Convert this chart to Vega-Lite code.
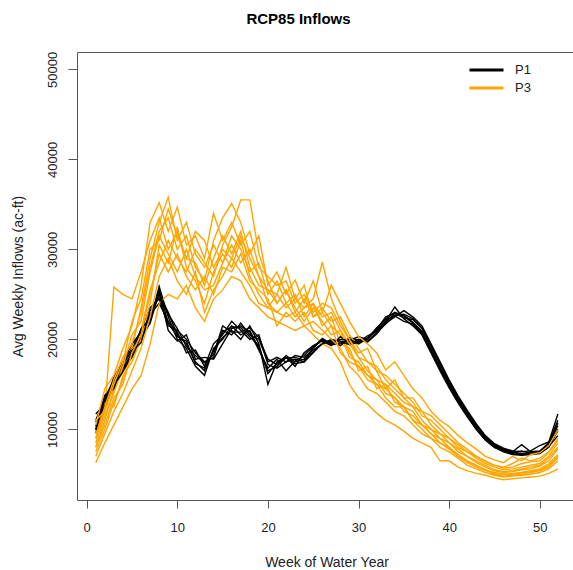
{
"$schema":"https://vega.github.io/schema/vega-lite/v6.json",
"autosize":{"type":"none"},
"padding":{"left":77,"top":52,"right":-3,"bottom":70},
"width":499,"height":448,
"background":"white",
"title":{"text":"RCP85 Inflows","fontSize":15,"fontWeight":"bold","color":"#000","anchor":"middle","frame":"group","dx":-28,"dy":-4,"baseline":"alphabetic","offset":8},
"config":{"font":"Liberation Sans","view":{"stroke":"#555","strokeWidth":1},"axis":{"grid":false,"domain":false,"tickColor":"#555","labelColor":"#222","titleColor":"#222","labelFontSize":13,"titleFontSize":14,"titleFontWeight":"normal"}},
"data":{"values":[
{"g":"P1","r":1,"w":1,"v":9600},{"g":"P1","r":1,"w":2,"v":12500},{"g":"P1","r":1,"w":3,"v":14800},{"g":"P1","r":1,"w":4,"v":16500},{"g":"P1","r":1,"w":5,"v":18200},{"g":"P1","r":1,"w":6,"v":20000},{"g":"P1","r":1,"w":7,"v":22000},{"g":"P1","r":1,"w":8,"v":25900},{"g":"P1","r":1,"w":9,"v":22500},{"g":"P1","r":1,"w":10,"v":20000},{"g":"P1","r":1,"w":11,"v":19000},{"g":"P1","r":1,"w":12,"v":17000},{"g":"P1","r":1,"w":13,"v":16000},{"g":"P1","r":1,"w":14,"v":19000},{"g":"P1","r":1,"w":15,"v":20000},{"g":"P1","r":1,"w":16,"v":21500},{"g":"P1","r":1,"w":17,"v":20500},{"g":"P1","r":1,"w":18,"v":21000},{"g":"P1","r":1,"w":19,"v":19000},{"g":"P1","r":1,"w":20,"v":16500},{"g":"P1","r":1,"w":21,"v":17000},{"g":"P1","r":1,"w":22,"v":18000},{"g":"P1","r":1,"w":23,"v":17300},{"g":"P1","r":1,"w":24,"v":17500},{"g":"P1","r":1,"w":25,"v":19000},{"g":"P1","r":1,"w":26,"v":20000},{"g":"P1","r":1,"w":27,"v":19400},{"g":"P1","r":1,"w":28,"v":19500},{"g":"P1","r":1,"w":29,"v":19800},{"g":"P1","r":1,"w":30,"v":19600},{"g":"P1","r":1,"w":31,"v":20200},{"g":"P1","r":1,"w":32,"v":21200},{"g":"P1","r":1,"w":33,"v":22300},{"g":"P1","r":1,"w":34,"v":23000},{"g":"P1","r":1,"w":35,"v":22600},{"g":"P1","r":1,"w":36,"v":21800},{"g":"P1","r":1,"w":37,"v":20800},{"g":"P1","r":1,"w":38,"v":18800},{"g":"P1","r":1,"w":39,"v":16800},{"g":"P1","r":1,"w":40,"v":14800},{"g":"P1","r":1,"w":41,"v":13000},{"g":"P1","r":1,"w":42,"v":11500},{"g":"P1","r":1,"w":43,"v":10000},{"g":"P1","r":1,"w":44,"v":8800},{"g":"P1","r":1,"w":45,"v":8000},{"g":"P1","r":1,"w":46,"v":7500},{"g":"P1","r":1,"w":47,"v":7200},{"g":"P1","r":1,"w":48,"v":7100},{"g":"P1","r":1,"w":49,"v":7200},{"g":"P1","r":1,"w":50,"v":7300},{"g":"P1","r":1,"w":51,"v":8000},{"g":"P1","r":1,"w":52,"v":10000},
{"g":"P3","r":1,"w":1,"v":9000},{"g":"P3","r":1,"w":2,"v":12000},{"g":"P3","r":1,"w":3,"v":25800},{"g":"P3","r":1,"w":4,"v":25000},{"g":"P3","r":1,"w":5,"v":24500},{"g":"P3","r":1,"w":6,"v":27500},{"g":"P3","r":1,"w":7,"v":31000},{"g":"P3","r":1,"w":8,"v":33500},{"g":"P3","r":1,"w":9,"v":30000},{"g":"P3","r":1,"w":10,"v":32000},{"g":"P3","r":1,"w":11,"v":29000},{"g":"P3","r":1,"w":12,"v":28500},{"g":"P3","r":1,"w":13,"v":26000},{"g":"P3","r":1,"w":14,"v":29000},{"g":"P3","r":1,"w":15,"v":31500},{"g":"P3","r":1,"w":16,"v":29500},{"g":"P3","r":1,"w":17,"v":32000},{"g":"P3","r":1,"w":18,"v":28000},{"g":"P3","r":1,"w":19,"v":26000},{"g":"P3","r":1,"w":20,"v":25500},{"g":"P3","r":1,"w":21,"v":24000},{"g":"P3","r":1,"w":22,"v":25500},{"g":"P3","r":1,"w":23,"v":23000},{"g":"P3","r":1,"w":24,"v":24500},{"g":"P3","r":1,"w":25,"v":22500},{"g":"P3","r":1,"w":26,"v":23000},{"g":"P3","r":1,"w":27,"v":21500},{"g":"P3","r":1,"w":28,"v":20500},{"g":"P3","r":1,"w":29,"v":18000},{"g":"P3","r":1,"w":30,"v":17500},{"g":"P3","r":1,"w":31,"v":16000},{"g":"P3","r":1,"w":32,"v":15500},{"g":"P3","r":1,"w":33,"v":14000},{"g":"P3","r":1,"w":34,"v":13500},{"g":"P3","r":1,"w":35,"v":12500},{"g":"P3","r":1,"w":36,"v":12000},{"g":"P3","r":1,"w":37,"v":10500},{"g":"P3","r":1,"w":38,"v":10000},{"g":"P3","r":1,"w":39,"v":9000},{"g":"P3","r":1,"w":40,"v":8500},{"g":"P3","r":1,"w":41,"v":7500},{"g":"P3","r":1,"w":42,"v":7000},{"g":"P3","r":1,"w":43,"v":6300},{"g":"P3","r":1,"w":44,"v":5800},{"g":"P3","r":1,"w":45,"v":5400},{"g":"P3","r":1,"w":46,"v":5200},{"g":"P3","r":1,"w":47,"v":5300},{"g":"P3","r":1,"w":48,"v":5500},{"g":"P3","r":1,"w":49,"v":5600},{"g":"P3","r":1,"w":50,"v":5900},{"g":"P3","r":1,"w":51,"v":6500},{"g":"P3","r":1,"w":52,"v":7800},
{"g":"P1","r":2,"w":1,"v":11000},{"g":"P1","r":2,"w":2,"v":13500},{"g":"P1","r":2,"w":3,"v":15500},{"g":"P1","r":2,"w":4,"v":17500},{"g":"P1","r":2,"w":5,"v":19000},{"g":"P1","r":2,"w":6,"v":21000},{"g":"P1","r":2,"w":7,"v":23500},{"g":"P1","r":2,"w":8,"v":24500},{"g":"P1","r":2,"w":9,"v":21500},{"g":"P1","r":2,"w":10,"v":21000},{"g":"P1","r":2,"w":11,"v":20000},{"g":"P1","r":2,"w":12,"v":18500},{"g":"P1","r":2,"w":13,"v":17500},{"g":"P1","r":2,"w":14,"v":18000},{"g":"P1","r":2,"w":15,"v":21000},{"g":"P1","r":2,"w":16,"v":20500},{"g":"P1","r":2,"w":17,"v":21800},{"g":"P1","r":2,"w":18,"v":20500},{"g":"P1","r":2,"w":19,"v":20000},{"g":"P1","r":2,"w":20,"v":17500},{"g":"P1","r":2,"w":21,"v":18000},{"g":"P1","r":2,"w":22,"v":17500},{"g":"P1","r":2,"w":23,"v":18200},{"g":"P1","r":2,"w":24,"v":18000},{"g":"P1","r":2,"w":25,"v":18800},{"g":"P1","r":2,"w":26,"v":19500},{"g":"P1","r":2,"w":27,"v":20000},{"g":"P1","r":2,"w":28,"v":19700},{"g":"P1","r":2,"w":29,"v":19500},{"g":"P1","r":2,"w":30,"v":20000},{"g":"P1","r":2,"w":31,"v":19800},{"g":"P1","r":2,"w":32,"v":20800},{"g":"P1","r":2,"w":33,"v":21700},{"g":"P1","r":2,"w":34,"v":22700},{"g":"P1","r":2,"w":35,"v":22800},{"g":"P1","r":2,"w":36,"v":22300},{"g":"P1","r":2,"w":37,"v":21300},{"g":"P1","r":2,"w":38,"v":19300},{"g":"P1","r":2,"w":39,"v":17300},{"g":"P1","r":2,"w":40,"v":15300},{"g":"P1","r":2,"w":41,"v":13500},{"g":"P1","r":2,"w":42,"v":12000},{"g":"P1","r":2,"w":43,"v":10500},{"g":"P1","r":2,"w":44,"v":9200},{"g":"P1","r":2,"w":45,"v":8300},{"g":"P1","r":2,"w":46,"v":7800},{"g":"P1","r":2,"w":47,"v":7500},{"g":"P1","r":2,"w":48,"v":8300},{"g":"P1","r":2,"w":49,"v":7500},{"g":"P1","r":2,"w":50,"v":7600},{"g":"P1","r":2,"w":51,"v":8500},{"g":"P1","r":2,"w":52,"v":11000},
{"g":"P3","r":2,"w":1,"v":7500},{"g":"P3","r":2,"w":2,"v":10000},{"g":"P3","r":2,"w":3,"v":13000},{"g":"P3","r":2,"w":4,"v":15500},{"g":"P3","r":2,"w":5,"v":19000},{"g":"P3","r":2,"w":6,"v":23500},{"g":"P3","r":2,"w":7,"v":29000},{"g":"P3","r":2,"w":8,"v":33000},{"g":"P3","r":2,"w":9,"v":35800},{"g":"P3","r":2,"w":10,"v":31000},{"g":"P3","r":2,"w":11,"v":33000},{"g":"P3","r":2,"w":12,"v":29500},{"g":"P3","r":2,"w":13,"v":28000},{"g":"P3","r":2,"w":14,"v":30500},{"g":"P3","r":2,"w":15,"v":28500},{"g":"P3","r":2,"w":16,"v":31500},{"g":"P3","r":2,"w":17,"v":30000},{"g":"P3","r":2,"w":18,"v":27500},{"g":"P3","r":2,"w":19,"v":28500},{"g":"P3","r":2,"w":20,"v":25000},{"g":"P3","r":2,"w":21,"v":26500},{"g":"P3","r":2,"w":22,"v":24000},{"g":"P3","r":2,"w":23,"v":25000},{"g":"P3","r":2,"w":24,"v":22500},{"g":"P3","r":2,"w":25,"v":24000},{"g":"P3","r":2,"w":26,"v":21500},{"g":"P3","r":2,"w":27,"v":22500},{"g":"P3","r":2,"w":28,"v":19500},{"g":"P3","r":2,"w":29,"v":19000},{"g":"P3","r":2,"w":30,"v":16500},{"g":"P3","r":2,"w":31,"v":17000},{"g":"P3","r":2,"w":32,"v":14500},{"g":"P3","r":2,"w":33,"v":15000},{"g":"P3","r":2,"w":34,"v":13000},{"g":"P3","r":2,"w":35,"v":12500},{"g":"P3","r":2,"w":36,"v":11000},{"g":"P3","r":2,"w":37,"v":10500},{"g":"P3","r":2,"w":38,"v":9500},{"g":"P3","r":2,"w":39,"v":8500},{"g":"P3","r":2,"w":40,"v":8000},{"g":"P3","r":2,"w":41,"v":7200},{"g":"P3","r":2,"w":42,"v":6500},{"g":"P3","r":2,"w":43,"v":6000},{"g":"P3","r":2,"w":44,"v":5500},{"g":"P3","r":2,"w":45,"v":5200},{"g":"P3","r":2,"w":46,"v":5000},{"g":"P3","r":2,"w":47,"v":5000},{"g":"P3","r":2,"w":48,"v":5200},{"g":"P3","r":2,"w":49,"v":5300},{"g":"P3","r":2,"w":50,"v":5500},{"g":"P3","r":2,"w":51,"v":6000},{"g":"P3","r":2,"w":52,"v":7000},
{"g":"P1","r":3,"w":1,"v":10000},{"g":"P1","r":3,"w":2,"v":13000},{"g":"P1","r":3,"w":3,"v":15000},{"g":"P1","r":3,"w":4,"v":16800},{"g":"P1","r":3,"w":5,"v":18500},{"g":"P1","r":3,"w":6,"v":20500},{"g":"P1","r":3,"w":7,"v":22500},{"g":"P1","r":3,"w":8,"v":25000},{"g":"P1","r":3,"w":9,"v":23000},{"g":"P1","r":3,"w":10,"v":20500},{"g":"P1","r":3,"w":11,"v":19500},{"g":"P1","r":3,"w":12,"v":17500},{"g":"P1","r":3,"w":13,"v":16500},{"g":"P1","r":3,"w":14,"v":18800},{"g":"P1","r":3,"w":15,"v":20200},{"g":"P1","r":3,"w":16,"v":21000},{"g":"P1","r":3,"w":17,"v":20000},{"g":"P1","r":3,"w":18,"v":21500},{"g":"P1","r":3,"w":19,"v":19500},{"g":"P1","r":3,"w":20,"v":15000},{"g":"P1","r":3,"w":21,"v":17500},{"g":"P1","r":3,"w":22,"v":18000},{"g":"P1","r":3,"w":23,"v":17000},{"g":"P1","r":3,"w":24,"v":18500},{"g":"P1","r":3,"w":25,"v":19300},{"g":"P1","r":3,"w":26,"v":19800},{"g":"P1","r":3,"w":27,"v":19300},{"g":"P1","r":3,"w":28,"v":20300},{"g":"P1","r":3,"w":29,"v":19600},{"g":"P1","r":3,"w":30,"v":19800},{"g":"P1","r":3,"w":31,"v":20100},{"g":"P1","r":3,"w":32,"v":21000},{"g":"P1","r":3,"w":33,"v":22000},{"g":"P1","r":3,"w":34,"v":23600},{"g":"P1","r":3,"w":35,"v":22300},{"g":"P1","r":3,"w":36,"v":21500},{"g":"P1","r":3,"w":37,"v":20500},{"g":"P1","r":3,"w":38,"v":18500},{"g":"P1","r":3,"w":39,"v":16500},{"g":"P1","r":3,"w":40,"v":14600},{"g":"P1","r":3,"w":41,"v":12900},{"g":"P1","r":3,"w":42,"v":11400},{"g":"P1","r":3,"w":43,"v":10000},{"g":"P1","r":3,"w":44,"v":8800},{"g":"P1","r":3,"w":45,"v":8000},{"g":"P1","r":3,"w":46,"v":7600},{"g":"P1","r":3,"w":47,"v":7300},{"g":"P1","r":3,"w":48,"v":7200},{"g":"P1","r":3,"w":49,"v":7300},{"g":"P1","r":3,"w":50,"v":7400},{"g":"P1","r":3,"w":51,"v":8200},{"g":"P1","r":3,"w":52,"v":9800},
{"g":"P3","r":3,"w":1,"v":8000},{"g":"P3","r":3,"w":2,"v":11000},{"g":"P3","r":3,"w":3,"v":14500},{"g":"P3","r":3,"w":4,"v":16500},{"g":"P3","r":3,"w":5,"v":18000},{"g":"P3","r":3,"w":6,"v":21000},{"g":"P3","r":3,"w":7,"v":25500},{"g":"P3","r":3,"w":8,"v":28500},{"g":"P3","r":3,"w":9,"v":31000},{"g":"P3","r":3,"w":10,"v":29000},{"g":"P3","r":3,"w":11,"v":27500},{"g":"P3","r":3,"w":12,"v":30000},{"g":"P3","r":3,"w":13,"v":28500},{"g":"P3","r":3,"w":14,"v":27000},{"g":"P3","r":3,"w":15,"v":30500},{"g":"P3","r":3,"w":16,"v":32500},{"g":"P3","r":3,"w":17,"v":35500},{"g":"P3","r":3,"w":18,"v":35500},{"g":"P3","r":3,"w":19,"v":29500},{"g":"P3","r":3,"w":20,"v":26500},{"g":"P3","r":3,"w":21,"v":24000},{"g":"P3","r":3,"w":22,"v":25500},{"g":"P3","r":3,"w":23,"v":23500},{"g":"P3","r":3,"w":24,"v":22000},{"g":"P3","r":3,"w":25,"v":23500},{"g":"P3","r":3,"w":26,"v":22000},{"g":"P3","r":3,"w":27,"v":20500},{"g":"P3","r":3,"w":28,"v":21000},{"g":"P3","r":3,"w":29,"v":18500},{"g":"P3","r":3,"w":30,"v":17000},{"g":"P3","r":3,"w":31,"v":16000},{"g":"P3","r":3,"w":32,"v":15000},{"g":"P3","r":3,"w":33,"v":14500},{"g":"P3","r":3,"w":34,"v":13500},{"g":"P3","r":3,"w":35,"v":12000},{"g":"P3","r":3,"w":36,"v":11500},{"g":"P3","r":3,"w":37,"v":10500},{"g":"P3","r":3,"w":38,"v":9500},{"g":"P3","r":3,"w":39,"v":9000},{"g":"P3","r":3,"w":40,"v":8000},{"g":"P3","r":3,"w":41,"v":7000},{"g":"P3","r":3,"w":42,"v":6500},{"g":"P3","r":3,"w":43,"v":6000},{"g":"P3","r":3,"w":44,"v":5500},{"g":"P3","r":3,"w":45,"v":5000},{"g":"P3","r":3,"w":46,"v":4800},{"g":"P3","r":3,"w":47,"v":4900},{"g":"P3","r":3,"w":48,"v":5000},{"g":"P3","r":3,"w":49,"v":5200},{"g":"P3","r":3,"w":50,"v":5400},{"g":"P3","r":3,"w":51,"v":5800},{"g":"P3","r":3,"w":52,"v":6800},
{"g":"P1","r":4,"w":1,"v":11700},{"g":"P1","r":4,"w":2,"v":12800},{"g":"P1","r":4,"w":3,"v":15800},{"g":"P1","r":4,"w":4,"v":17500},{"g":"P1","r":4,"w":5,"v":19500},{"g":"P1","r":4,"w":6,"v":20800},{"g":"P1","r":4,"w":7,"v":22800},{"g":"P1","r":4,"w":8,"v":24000},{"g":"P1","r":4,"w":9,"v":22000},{"g":"P1","r":4,"w":10,"v":20800},{"g":"P1","r":4,"w":11,"v":18500},{"g":"P1","r":4,"w":12,"v":18800},{"g":"P1","r":4,"w":13,"v":17000},{"g":"P1","r":4,"w":14,"v":19500},{"g":"P1","r":4,"w":15,"v":20500},{"g":"P1","r":4,"w":16,"v":22000},{"g":"P1","r":4,"w":17,"v":21000},{"g":"P1","r":4,"w":18,"v":20000},{"g":"P1","r":4,"w":19,"v":20500},{"g":"P1","r":4,"w":20,"v":17200},{"g":"P1","r":4,"w":21,"v":16800},{"g":"P1","r":4,"w":22,"v":17500},{"g":"P1","r":4,"w":23,"v":17800},{"g":"P1","r":4,"w":24,"v":17500},{"g":"P1","r":4,"w":25,"v":18500},{"g":"P1","r":4,"w":26,"v":19600},{"g":"P1","r":4,"w":27,"v":19800},{"g":"P1","r":4,"w":28,"v":19300},{"g":"P1","r":4,"w":29,"v":20200},{"g":"P1","r":4,"w":30,"v":19900},{"g":"P1","r":4,"w":31,"v":19700},{"g":"P1","r":4,"w":32,"v":20600},{"g":"P1","r":4,"w":33,"v":21800},{"g":"P1","r":4,"w":34,"v":22500},{"g":"P1","r":4,"w":35,"v":23200},{"g":"P1","r":4,"w":36,"v":22500},{"g":"P1","r":4,"w":37,"v":21500},{"g":"P1","r":4,"w":38,"v":19500},{"g":"P1","r":4,"w":39,"v":17500},{"g":"P1","r":4,"w":40,"v":15500},{"g":"P1","r":4,"w":41,"v":13700},{"g":"P1","r":4,"w":42,"v":12100},{"g":"P1","r":4,"w":43,"v":10600},{"g":"P1","r":4,"w":44,"v":9300},{"g":"P1","r":4,"w":45,"v":8400},{"g":"P1","r":4,"w":46,"v":7900},{"g":"P1","r":4,"w":47,"v":7600},{"g":"P1","r":4,"w":48,"v":7500},{"g":"P1","r":4,"w":49,"v":7600},{"g":"P1","r":4,"w":50,"v":8200},{"g":"P1","r":4,"w":51,"v":8600},{"g":"P1","r":4,"w":52,"v":11700},
{"g":"P3","r":4,"w":1,"v":6300},{"g":"P3","r":4,"w":2,"v":8500},{"g":"P3","r":4,"w":3,"v":10500},{"g":"P3","r":4,"w":4,"v":12500},{"g":"P3","r":4,"w":5,"v":14500},{"g":"P3","r":4,"w":6,"v":16000},{"g":"P3","r":4,"w":7,"v":19500},{"g":"P3","r":4,"w":8,"v":24000},{"g":"P3","r":4,"w":9,"v":25000},{"g":"P3","r":4,"w":10,"v":24500},{"g":"P3","r":4,"w":11,"v":26000},{"g":"P3","r":4,"w":12,"v":23500},{"g":"P3","r":4,"w":13,"v":22000},{"g":"P3","r":4,"w":14,"v":24500},{"g":"P3","r":4,"w":15,"v":25500},{"g":"P3","r":4,"w":16,"v":27000},{"g":"P3","r":4,"w":17,"v":26500},{"g":"P3","r":4,"w":18,"v":24500},{"g":"P3","r":4,"w":19,"v":23500},{"g":"P3","r":4,"w":20,"v":22500},{"g":"P3","r":4,"w":21,"v":22000},{"g":"P3","r":4,"w":22,"v":21500},{"g":"P3","r":4,"w":23,"v":21000},{"g":"P3","r":4,"w":24,"v":21500},{"g":"P3","r":4,"w":25,"v":20500},{"g":"P3","r":4,"w":26,"v":19500},{"g":"P3","r":4,"w":27,"v":19000},{"g":"P3","r":4,"w":28,"v":17500},{"g":"P3","r":4,"w":29,"v":15000},{"g":"P3","r":4,"w":30,"v":13500},{"g":"P3","r":4,"w":31,"v":12800},{"g":"P3","r":4,"w":32,"v":11800},{"g":"P3","r":4,"w":33,"v":11000},{"g":"P3","r":4,"w":34,"v":10500},{"g":"P3","r":4,"w":35,"v":9800},{"g":"P3","r":4,"w":36,"v":9000},{"g":"P3","r":4,"w":37,"v":8500},{"g":"P3","r":4,"w":38,"v":8000},{"g":"P3","r":4,"w":39,"v":6500},{"g":"P3","r":4,"w":40,"v":6500},{"g":"P3","r":4,"w":41,"v":5800},{"g":"P3","r":4,"w":42,"v":5400},{"g":"P3","r":4,"w":43,"v":5100},{"g":"P3","r":4,"w":44,"v":4900},{"g":"P3","r":4,"w":45,"v":4600},{"g":"P3","r":4,"w":46,"v":4400},{"g":"P3","r":4,"w":47,"v":4500},{"g":"P3","r":4,"w":48,"v":4600},{"g":"P3","r":4,"w":49,"v":4700},{"g":"P3","r":4,"w":50,"v":4800},{"g":"P3","r":4,"w":51,"v":5100},{"g":"P3","r":4,"w":52,"v":5600},
{"g":"P1","r":5,"w":1,"v":10300},{"g":"P1","r":5,"w":2,"v":13800},{"g":"P1","r":5,"w":3,"v":14500},{"g":"P1","r":5,"w":4,"v":16800},{"g":"P1","r":5,"w":5,"v":18000},{"g":"P1","r":5,"w":6,"v":20200},{"g":"P1","r":5,"w":7,"v":21800},{"g":"P1","r":5,"w":8,"v":25200},{"g":"P1","r":5,"w":9,"v":21000},{"g":"P1","r":5,"w":10,"v":19800},{"g":"P1","r":5,"w":11,"v":20500},{"g":"P1","r":5,"w":12,"v":17800},{"g":"P1","r":5,"w":13,"v":18000},{"g":"P1","r":5,"w":14,"v":17800},{"g":"P1","r":5,"w":15,"v":19500},{"g":"P1","r":5,"w":16,"v":21200},{"g":"P1","r":5,"w":17,"v":21500},{"g":"P1","r":5,"w":18,"v":20800},{"g":"P1","r":5,"w":19,"v":18800},{"g":"P1","r":5,"w":20,"v":16800},{"g":"P1","r":5,"w":21,"v":17800},{"g":"P1","r":5,"w":22,"v":16500},{"g":"P1","r":5,"w":23,"v":17600},{"g":"P1","r":5,"w":24,"v":18200},{"g":"P1","r":5,"w":25,"v":19200},{"g":"P1","r":5,"w":26,"v":19900},{"g":"P1","r":5,"w":27,"v":19600},{"g":"P1","r":5,"w":28,"v":20000},{"g":"P1","r":5,"w":29,"v":19900},{"g":"P1","r":5,"w":30,"v":20300},{"g":"P1","r":5,"w":31,"v":20000},{"g":"P1","r":5,"w":32,"v":21300},{"g":"P1","r":5,"w":33,"v":22200},{"g":"P1","r":5,"w":34,"v":22600},{"g":"P1","r":5,"w":35,"v":22000},{"g":"P1","r":5,"w":36,"v":21700},{"g":"P1","r":5,"w":37,"v":20600},{"g":"P1","r":5,"w":38,"v":18700},{"g":"P1","r":5,"w":39,"v":16700},{"g":"P1","r":5,"w":40,"v":14900},{"g":"P1","r":5,"w":41,"v":13200},{"g":"P1","r":5,"w":42,"v":11700},{"g":"P1","r":5,"w":43,"v":10200},{"g":"P1","r":5,"w":44,"v":8900},{"g":"P1","r":5,"w":45,"v":8100},{"g":"P1","r":5,"w":46,"v":7700},{"g":"P1","r":5,"w":47,"v":7400},{"g":"P1","r":5,"w":48,"v":7600},{"g":"P1","r":5,"w":49,"v":7300},{"g":"P1","r":5,"w":50,"v":7500},{"g":"P1","r":5,"w":51,"v":8300},{"g":"P1","r":5,"w":52,"v":10400},
{"g":"P3","r":5,"w":1,"v":9500},{"g":"P3","r":5,"w":2,"v":13000},{"g":"P3","r":5,"w":3,"v":12500},{"g":"P3","r":5,"w":4,"v":16000},{"g":"P3","r":5,"w":5,"v":17500},{"g":"P3","r":5,"w":6,"v":20000},{"g":"P3","r":5,"w":7,"v":24000},{"g":"P3","r":5,"w":8,"v":30500},{"g":"P3","r":5,"w":9,"v":28500},{"g":"P3","r":5,"w":10,"v":32500},{"g":"P3","r":5,"w":11,"v":28000},{"g":"P3","r":5,"w":12,"v":26500},{"g":"P3","r":5,"w":13,"v":24000},{"g":"P3","r":5,"w":14,"v":27500},{"g":"P3","r":5,"w":15,"v":29500},{"g":"P3","r":5,"w":16,"v":28000},{"g":"P3","r":5,"w":17,"v":31000},{"g":"P3","r":5,"w":18,"v":27000},{"g":"P3","r":5,"w":19,"v":25000},{"g":"P3","r":5,"w":20,"v":23500},{"g":"P3","r":5,"w":21,"v":25000},{"g":"P3","r":5,"w":22,"v":28000},{"g":"P3","r":5,"w":23,"v":24500},{"g":"P3","r":5,"w":24,"v":26000},{"g":"P3","r":5,"w":25,"v":22500},{"g":"P3","r":5,"w":26,"v":23500},{"g":"P3","r":5,"w":27,"v":22000},{"g":"P3","r":5,"w":28,"v":22500},{"g":"P3","r":5,"w":29,"v":20500},{"g":"P3","r":5,"w":30,"v":19000},{"g":"P3","r":5,"w":31,"v":17500},{"g":"P3","r":5,"w":32,"v":17000},{"g":"P3","r":5,"w":33,"v":15500},{"g":"P3","r":5,"w":34,"v":14500},{"g":"P3","r":5,"w":35,"v":13500},{"g":"P3","r":5,"w":36,"v":12500},{"g":"P3","r":5,"w":37,"v":12000},{"g":"P3","r":5,"w":38,"v":10500},{"g":"P3","r":5,"w":39,"v":9500},{"g":"P3","r":5,"w":40,"v":9000},{"g":"P3","r":5,"w":41,"v":8000},{"g":"P3","r":5,"w":42,"v":7500},{"g":"P3","r":5,"w":43,"v":6800},{"g":"P3","r":5,"w":44,"v":6200},{"g":"P3","r":5,"w":45,"v":5800},{"g":"P3","r":5,"w":46,"v":5500},{"g":"P3","r":5,"w":47,"v":5600},{"g":"P3","r":5,"w":48,"v":5800},{"g":"P3","r":5,"w":49,"v":6000},{"g":"P3","r":5,"w":50,"v":6200},{"g":"P3","r":5,"w":51,"v":7000},{"g":"P3","r":5,"w":52,"v":8500},
{"g":"P1","r":6,"w":1,"v":10800},{"g":"P1","r":6,"w":2,"v":12600},{"g":"P1","r":6,"w":3,"v":15300},{"g":"P1","r":6,"w":4,"v":17200},{"g":"P1","r":6,"w":5,"v":18800},{"g":"P1","r":6,"w":6,"v":19600},{"g":"P1","r":6,"w":7,"v":23200},{"g":"P1","r":6,"w":8,"v":24600},{"g":"P1","r":6,"w":9,"v":22800},{"g":"P1","r":6,"w":10,"v":21200},{"g":"P1","r":6,"w":11,"v":19200},{"g":"P1","r":6,"w":12,"v":18200},{"g":"P1","r":6,"w":13,"v":17400},{"g":"P1","r":6,"w":14,"v":18300},{"g":"P1","r":6,"w":15,"v":21500},{"g":"P1","r":6,"w":16,"v":20800},{"g":"P1","r":6,"w":17,"v":20800},{"g":"P1","r":6,"w":18,"v":21300},{"g":"P1","r":6,"w":19,"v":20200},{"g":"P1","r":6,"w":20,"v":17800},{"g":"P1","r":6,"w":21,"v":17200},{"g":"P1","r":6,"w":22,"v":18200},{"g":"P1","r":6,"w":23,"v":17500},{"g":"P1","r":6,"w":24,"v":17800},{"g":"P1","r":6,"w":25,"v":18600},{"g":"P1","r":6,"w":26,"v":19500},{"g":"P1","r":6,"w":27,"v":19900},{"g":"P1","r":6,"w":28,"v":19800},{"g":"P1","r":6,"w":29,"v":19400},{"g":"P1","r":6,"w":30,"v":19700},{"g":"P1","r":6,"w":31,"v":20400},{"g":"P1","r":6,"w":32,"v":20900},{"g":"P1","r":6,"w":33,"v":21900},{"g":"P1","r":6,"w":34,"v":22900},{"g":"P1","r":6,"w":35,"v":22400},{"g":"P1","r":6,"w":36,"v":22200},{"g":"P1","r":6,"w":37,"v":21200},{"g":"P1","r":6,"w":38,"v":19200},{"g":"P1","r":6,"w":39,"v":17200},{"g":"P1","r":6,"w":40,"v":15200},{"g":"P1","r":6,"w":41,"v":13400},{"g":"P1","r":6,"w":42,"v":11900},{"g":"P1","r":6,"w":43,"v":10400},{"g":"P1","r":6,"w":44,"v":9100},{"g":"P1","r":6,"w":45,"v":8200},{"g":"P1","r":6,"w":46,"v":7800},{"g":"P1","r":6,"w":47,"v":7500},{"g":"P1","r":6,"w":48,"v":7300},{"g":"P1","r":6,"w":49,"v":7400},{"g":"P1","r":6,"w":50,"v":7500},{"g":"P1","r":6,"w":51,"v":8400},{"g":"P1","r":6,"w":52,"v":10700},
{"g":"P3","r":6,"w":1,"v":8500},{"g":"P3","r":6,"w":2,"v":11500},{"g":"P3","r":6,"w":3,"v":14000},{"g":"P3","r":6,"w":4,"v":17000},{"g":"P3","r":6,"w":5,"v":20500},{"g":"P3","r":6,"w":6,"v":22000},{"g":"P3","r":6,"w":7,"v":27500},{"g":"P3","r":6,"w":8,"v":31500},{"g":"P3","r":6,"w":9,"v":29500},{"g":"P3","r":6,"w":10,"v":27500},{"g":"P3","r":6,"w":11,"v":30000},{"g":"P3","r":6,"w":12,"v":27000},{"g":"P3","r":6,"w":13,"v":25500},{"g":"P3","r":6,"w":14,"v":26000},{"g":"P3","r":6,"w":15,"v":28500},{"g":"P3","r":6,"w":16,"v":30500},{"g":"P3","r":6,"w":17,"v":28500},{"g":"P3","r":6,"w":18,"v":30000},{"g":"P3","r":6,"w":19,"v":27000},{"g":"P3","r":6,"w":20,"v":24000},{"g":"P3","r":6,"w":21,"v":23000},{"g":"P3","r":6,"w":22,"v":24000},{"g":"P3","r":6,"w":23,"v":22500},{"g":"P3","r":6,"w":24,"v":23500},{"g":"P3","r":6,"w":25,"v":24500},{"g":"P3","r":6,"w":26,"v":28600},{"g":"P3","r":6,"w":27,"v":24500},{"g":"P3","r":6,"w":28,"v":22000},{"g":"P3","r":6,"w":29,"v":20000},{"g":"P3","r":6,"w":30,"v":18500},{"g":"P3","r":6,"w":31,"v":19000},{"g":"P3","r":6,"w":32,"v":16500},{"g":"P3","r":6,"w":33,"v":16000},{"g":"P3","r":6,"w":34,"v":15000},{"g":"P3","r":6,"w":35,"v":14000},{"g":"P3","r":6,"w":36,"v":13000},{"g":"P3","r":6,"w":37,"v":11500},{"g":"P3","r":6,"w":38,"v":11000},{"g":"P3","r":6,"w":39,"v":10000},{"g":"P3","r":6,"w":40,"v":9000},{"g":"P3","r":6,"w":41,"v":8300},{"g":"P3","r":6,"w":42,"v":7500},{"g":"P3","r":6,"w":43,"v":7000},{"g":"P3","r":6,"w":44,"v":6500},{"g":"P3","r":6,"w":45,"v":6000},{"g":"P3","r":6,"w":46,"v":5800},{"g":"P3","r":6,"w":47,"v":6200},{"g":"P3","r":6,"w":48,"v":6800},{"g":"P3","r":6,"w":49,"v":6500},{"g":"P3","r":6,"w":50,"v":6800},{"g":"P3","r":6,"w":51,"v":7500},{"g":"P3","r":6,"w":52,"v":9000},
{"g":"P1","r":7,"w":1,"v":9900},{"g":"P1","r":7,"w":2,"v":13300},{"g":"P1","r":7,"w":3,"v":14900},{"g":"P1","r":7,"w":4,"v":16400},{"g":"P1","r":7,"w":5,"v":18300},{"g":"P1","r":7,"w":6,"v":21200},{"g":"P1","r":7,"w":7,"v":22300},{"g":"P1","r":7,"w":8,"v":25500},{"g":"P1","r":7,"w":9,"v":21800},{"g":"P1","r":7,"w":10,"v":20300},{"g":"P1","r":7,"w":11,"v":19800},{"g":"P1","r":7,"w":12,"v":17300},{"g":"P1","r":7,"w":13,"v":16800},{"g":"P1","r":7,"w":14,"v":18700},{"g":"P1","r":7,"w":15,"v":20800},{"g":"P1","r":7,"w":16,"v":21400},{"g":"P1","r":7,"w":17,"v":21300},{"g":"P1","r":7,"w":18,"v":20300},{"g":"P1","r":7,"w":19,"v":19300},{"g":"P1","r":7,"w":20,"v":16200},{"g":"P1","r":7,"w":21,"v":17400},{"g":"P1","r":7,"w":22,"v":17900},{"g":"P1","r":7,"w":23,"v":18000},{"g":"P1","r":7,"w":24,"v":17700},{"g":"P1","r":7,"w":25,"v":19100},{"g":"P1","r":7,"w":26,"v":20100},{"g":"P1","r":7,"w":27,"v":19500},{"g":"P1","r":7,"w":28,"v":19600},{"g":"P1","r":7,"w":29,"v":20000},{"g":"P1","r":7,"w":30,"v":19500},{"g":"P1","r":7,"w":31,"v":20100},{"g":"P1","r":7,"w":32,"v":21100},{"g":"P1","r":7,"w":33,"v":22500},{"g":"P1","r":7,"w":34,"v":22900},{"g":"P1","r":7,"w":35,"v":22700},{"g":"P1","r":7,"w":36,"v":21900},{"g":"P1","r":7,"w":37,"v":20900},{"g":"P1","r":7,"w":38,"v":18900},{"g":"P1","r":7,"w":39,"v":16900},{"g":"P1","r":7,"w":40,"v":15000},{"g":"P1","r":7,"w":41,"v":13200},{"g":"P1","r":7,"w":42,"v":11600},{"g":"P1","r":7,"w":43,"v":10100},{"g":"P1","r":7,"w":44,"v":8900},{"g":"P1","r":7,"w":45,"v":8100},{"g":"P1","r":7,"w":46,"v":7600},{"g":"P1","r":7,"w":47,"v":7300},{"g":"P1","r":7,"w":48,"v":7200},{"g":"P1","r":7,"w":49,"v":7300},{"g":"P1","r":7,"w":50,"v":7400},{"g":"P1","r":7,"w":51,"v":8100},{"g":"P1","r":7,"w":52,"v":9300},
{"g":"P3","r":7,"w":1,"v":10500},{"g":"P3","r":7,"w":2,"v":14500},{"g":"P3","r":7,"w":3,"v":16000},{"g":"P3","r":7,"w":4,"v":19000},{"g":"P3","r":7,"w":5,"v":21500},{"g":"P3","r":7,"w":6,"v":26000},{"g":"P3","r":7,"w":7,"v":33000},{"g":"P3","r":7,"w":8,"v":35200},{"g":"P3","r":7,"w":9,"v":32000},{"g":"P3","r":7,"w":10,"v":34700},{"g":"P3","r":7,"w":11,"v":30500},{"g":"P3","r":7,"w":12,"v":31500},{"g":"P3","r":7,"w":13,"v":29000},{"g":"P3","r":7,"w":14,"v":34000},{"g":"P3","r":7,"w":15,"v":31000},{"g":"P3","r":7,"w":16,"v":33000},{"g":"P3","r":7,"w":17,"v":30500},{"g":"P3","r":7,"w":18,"v":32000},{"g":"P3","r":7,"w":19,"v":28000},{"g":"P3","r":7,"w":20,"v":27000},{"g":"P3","r":7,"w":21,"v":26000},{"g":"P3","r":7,"w":22,"v":26500},{"g":"P3","r":7,"w":23,"v":24000},{"g":"P3","r":7,"w":24,"v":25000},{"g":"P3","r":7,"w":25,"v":23000},{"g":"P3","r":7,"w":26,"v":24000},{"g":"P3","r":7,"w":27,"v":23500},{"g":"P3","r":7,"w":28,"v":21500},{"g":"P3","r":7,"w":29,"v":20000},{"g":"P3","r":7,"w":30,"v":18000},{"g":"P3","r":7,"w":31,"v":17500},{"g":"P3","r":7,"w":32,"v":16500},{"g":"P3","r":7,"w":33,"v":14500},{"g":"P3","r":7,"w":34,"v":15500},{"g":"P3","r":7,"w":35,"v":13500},{"g":"P3","r":7,"w":36,"v":13500},{"g":"P3","r":7,"w":37,"v":12000},{"g":"P3","r":7,"w":38,"v":11500},{"g":"P3","r":7,"w":39,"v":10500},{"g":"P3","r":7,"w":40,"v":9500},{"g":"P3","r":7,"w":41,"v":8500},{"g":"P3","r":7,"w":42,"v":7800},{"g":"P3","r":7,"w":43,"v":7000},{"g":"P3","r":7,"w":44,"v":6400},{"g":"P3","r":7,"w":45,"v":6000},{"g":"P3","r":7,"w":46,"v":5700},{"g":"P3","r":7,"w":47,"v":5800},{"g":"P3","r":7,"w":48,"v":6200},{"g":"P3","r":7,"w":49,"v":6400},{"g":"P3","r":7,"w":50,"v":6500},{"g":"P3","r":7,"w":51,"v":7400},{"g":"P3","r":7,"w":52,"v":8800},
{"g":"P3","r":8,"w":1,"v":7000},{"g":"P3","r":8,"w":2,"v":9500},{"g":"P3","r":8,"w":3,"v":12000},{"g":"P3","r":8,"w":4,"v":14000},{"g":"P3","r":8,"w":5,"v":16500},{"g":"P3","r":8,"w":6,"v":19000},{"g":"P3","r":8,"w":7,"v":22500},{"g":"P3","r":8,"w":8,"v":27000},{"g":"P3","r":8,"w":9,"v":29000},{"g":"P3","r":8,"w":10,"v":26500},{"g":"P3","r":8,"w":11,"v":25000},{"g":"P3","r":8,"w":12,"v":27500},{"g":"P3","r":8,"w":13,"v":23000},{"g":"P3","r":8,"w":14,"v":25500},{"g":"P3","r":8,"w":15,"v":27000},{"g":"P3","r":8,"w":16,"v":29000},{"g":"P3","r":8,"w":17,"v":27500},{"g":"P3","r":8,"w":18,"v":26000},{"g":"P3","r":8,"w":19,"v":24000},{"g":"P3","r":8,"w":20,"v":23500},{"g":"P3","r":8,"w":21,"v":23000},{"g":"P3","r":8,"w":22,"v":22500},{"g":"P3","r":8,"w":23,"v":23000},{"g":"P3","r":8,"w":24,"v":21500},{"g":"P3","r":8,"w":25,"v":22000},{"g":"P3","r":8,"w":26,"v":21000},{"g":"P3","r":8,"w":27,"v":20000},{"g":"P3","r":8,"w":28,"v":19000},{"g":"P3","r":8,"w":29,"v":17000},{"g":"P3","r":8,"w":30,"v":16000},{"g":"P3","r":8,"w":31,"v":14500},{"g":"P3","r":8,"w":32,"v":14000},{"g":"P3","r":8,"w":33,"v":13000},{"g":"P3","r":8,"w":34,"v":12000},{"g":"P3","r":8,"w":35,"v":11500},{"g":"P3","r":8,"w":36,"v":10500},{"g":"P3","r":8,"w":37,"v":9500},{"g":"P3","r":8,"w":38,"v":9000},{"g":"P3","r":8,"w":39,"v":8000},{"g":"P3","r":8,"w":40,"v":7500},{"g":"P3","r":8,"w":41,"v":6800},{"g":"P3","r":8,"w":42,"v":6000},{"g":"P3","r":8,"w":43,"v":5600},{"g":"P3","r":8,"w":44,"v":5200},{"g":"P3","r":8,"w":45,"v":4900},{"g":"P3","r":8,"w":46,"v":4700},{"g":"P3","r":8,"w":47,"v":4800},{"g":"P3","r":8,"w":48,"v":4900},{"g":"P3","r":8,"w":49,"v":5000},{"g":"P3","r":8,"w":50,"v":5200},{"g":"P3","r":8,"w":51,"v":5600},{"g":"P3","r":8,"w":52,"v":6500},
{"g":"P3","r":9,"w":1,"v":9000},{"g":"P3","r":9,"w":2,"v":12500},{"g":"P3","r":9,"w":3,"v":15500},{"g":"P3","r":9,"w":4,"v":18000},{"g":"P3","r":9,"w":5,"v":19500},{"g":"P3","r":9,"w":6,"v":23000},{"g":"P3","r":9,"w":7,"v":28000},{"g":"P3","r":9,"w":8,"v":32000},{"g":"P3","r":9,"w":9,"v":33500},{"g":"P3","r":9,"w":10,"v":30000},{"g":"P3","r":9,"w":11,"v":31500},{"g":"P3","r":9,"w":12,"v":28000},{"g":"P3","r":9,"w":13,"v":26500},{"g":"P3","r":9,"w":14,"v":31000},{"g":"P3","r":9,"w":15,"v":33500},{"g":"P3","r":9,"w":16,"v":35100},{"g":"P3","r":9,"w":17,"v":33000},{"g":"P3","r":9,"w":18,"v":29500},{"g":"P3","r":9,"w":19,"v":31500},{"g":"P3","r":9,"w":20,"v":26000},{"g":"P3","r":9,"w":21,"v":27500},{"g":"P3","r":9,"w":22,"v":25000},{"g":"P3","r":9,"w":23,"v":26600},{"g":"P3","r":9,"w":24,"v":24000},{"g":"P3","r":9,"w":25,"v":26500},{"g":"P3","r":9,"w":26,"v":23000},{"g":"P3","r":9,"w":27,"v":26000},{"g":"P3","r":9,"w":28,"v":24000},{"g":"P3","r":9,"w":29,"v":22000},{"g":"P3","r":9,"w":30,"v":20300},{"g":"P3","r":9,"w":31,"v":19500},{"g":"P3","r":9,"w":32,"v":18500},{"g":"P3","r":9,"w":33,"v":16600},{"g":"P3","r":9,"w":34,"v":17500},{"g":"P3","r":9,"w":35,"v":16000},{"g":"P3","r":9,"w":36,"v":14500},{"g":"P3","r":9,"w":37,"v":13500},{"g":"P3","r":9,"w":38,"v":12000},{"g":"P3","r":9,"w":39,"v":11000},{"g":"P3","r":9,"w":40,"v":10300},{"g":"P3","r":9,"w":41,"v":9300},{"g":"P3","r":9,"w":42,"v":8500},{"g":"P3","r":9,"w":43,"v":7800},{"g":"P3","r":9,"w":44,"v":7000},{"g":"P3","r":9,"w":45,"v":6600},{"g":"P3","r":9,"w":46,"v":6300},{"g":"P3","r":9,"w":47,"v":7000},{"g":"P3","r":9,"w":48,"v":6500},{"g":"P3","r":9,"w":49,"v":7200},{"g":"P3","r":9,"w":50,"v":7400},{"g":"P3","r":9,"w":51,"v":8200},{"g":"P3","r":9,"w":52,"v":9900},
{"g":"P3","r":10,"w":1,"v":8000},{"g":"P3","r":10,"w":2,"v":10500},{"g":"P3","r":10,"w":3,"v":13500},{"g":"P3","r":10,"w":4,"v":15000},{"g":"P3","r":10,"w":5,"v":18500},{"g":"P3","r":10,"w":6,"v":20500},{"g":"P3","r":10,"w":7,"v":25000},{"g":"P3","r":10,"w":8,"v":29500},{"g":"P3","r":10,"w":9,"v":27500},{"g":"P3","r":10,"w":10,"v":29500},{"g":"P3","r":10,"w":11,"v":27000},{"g":"P3","r":10,"w":12,"v":25500},{"g":"P3","r":10,"w":13,"v":27000},{"g":"P3","r":10,"w":14,"v":25000},{"g":"P3","r":10,"w":15,"v":28000},{"g":"P3","r":10,"w":16,"v":27500},{"g":"P3","r":10,"w":17,"v":29500},{"g":"P3","r":10,"w":18,"v":26500},{"g":"P3","r":10,"w":19,"v":25500},{"g":"P3","r":10,"w":20,"v":24500},{"g":"P3","r":10,"w":21,"v":21500},{"g":"P3","r":10,"w":22,"v":23000},{"g":"P3","r":10,"w":23,"v":22000},{"g":"P3","r":10,"w":24,"v":23000},{"g":"P3","r":10,"w":25,"v":21000},{"g":"P3","r":10,"w":26,"v":20500},{"g":"P3","r":10,"w":27,"v":21500},{"g":"P3","r":10,"w":28,"v":18500},{"g":"P3","r":10,"w":29,"v":17500},{"g":"P3","r":10,"w":30,"v":17000},{"g":"P3","r":10,"w":31,"v":15500},{"g":"P3","r":10,"w":32,"v":15000},{"g":"P3","r":10,"w":33,"v":13500},{"g":"P3","r":10,"w":34,"v":12500},{"g":"P3","r":10,"w":35,"v":12500},{"g":"P3","r":10,"w":36,"v":11000},{"g":"P3","r":10,"w":37,"v":10000},{"g":"P3","r":10,"w":38,"v":9000},{"g":"P3","r":10,"w":39,"v":8500},{"g":"P3","r":10,"w":40,"v":7800},{"g":"P3","r":10,"w":41,"v":7000},{"g":"P3","r":10,"w":42,"v":6300},{"g":"P3","r":10,"w":43,"v":5800},{"g":"P3","r":10,"w":44,"v":5400},{"g":"P3","r":10,"w":45,"v":5100},{"g":"P3","r":10,"w":46,"v":5000},{"g":"P3","r":10,"w":47,"v":5100},{"g":"P3","r":10,"w":48,"v":5200},{"g":"P3","r":10,"w":49,"v":5400},{"g":"P3","r":10,"w":50,"v":5600},{"g":"P3","r":10,"w":51,"v":6200},{"g":"P3","r":10,"w":52,"v":7200},
{"g":"P3","r":11,"w":1,"v":11000},{"g":"P3","r":11,"w":2,"v":12000},{"g":"P3","r":11,"w":3,"v":15000},{"g":"P3","r":11,"w":4,"v":17500},{"g":"P3","r":11,"w":5,"v":22000},{"g":"P3","r":11,"w":6,"v":24500},{"g":"P3","r":11,"w":7,"v":30000},{"g":"P3","r":11,"w":8,"v":31000},{"g":"P3","r":11,"w":9,"v":34500},{"g":"P3","r":11,"w":10,"v":31500},{"g":"P3","r":11,"w":11,"v":29000},{"g":"P3","r":11,"w":12,"v":32000},{"g":"P3","r":11,"w":13,"v":31000},{"g":"P3","r":11,"w":14,"v":28000},{"g":"P3","r":11,"w":15,"v":30000},{"g":"P3","r":11,"w":16,"v":29000},{"g":"P3","r":11,"w":17,"v":31500},{"g":"P3","r":11,"w":18,"v":29000},{"g":"P3","r":11,"w":19,"v":27000},{"g":"P3","r":11,"w":20,"v":25500},{"g":"P3","r":11,"w":21,"v":25000},{"g":"P3","r":11,"w":22,"v":23500},{"g":"P3","r":11,"w":23,"v":24500},{"g":"P3","r":11,"w":24,"v":23500},{"g":"P3","r":11,"w":25,"v":24000},{"g":"P3","r":11,"w":26,"v":22500},{"g":"P3","r":11,"w":27,"v":23000},{"g":"P3","r":11,"w":28,"v":21000},{"g":"P3","r":11,"w":29,"v":19500},{"g":"P3","r":11,"w":30,"v":18000},{"g":"P3","r":11,"w":31,"v":16500},{"g":"P3","r":11,"w":32,"v":15500},{"g":"P3","r":11,"w":33,"v":15000},{"g":"P3","r":11,"w":34,"v":14000},{"g":"P3","r":11,"w":35,"v":13000},{"g":"P3","r":11,"w":36,"v":12500},{"g":"P3","r":11,"w":37,"v":11000},{"g":"P3","r":11,"w":38,"v":10000},{"g":"P3","r":11,"w":39,"v":9500},{"g":"P3","r":11,"w":40,"v":8500},{"g":"P3","r":11,"w":41,"v":7800},{"g":"P3","r":11,"w":42,"v":7000},{"g":"P3","r":11,"w":43,"v":6500},{"g":"P3","r":11,"w":44,"v":6000},{"g":"P3","r":11,"w":45,"v":5500},{"g":"P3","r":11,"w":46,"v":5300},{"g":"P3","r":11,"w":47,"v":5400},{"g":"P3","r":11,"w":48,"v":5600},{"g":"P3","r":11,"w":49,"v":5800},{"g":"P3","r":11,"w":50,"v":6000},{"g":"P3","r":11,"w":51,"v":6800},{"g":"P3","r":11,"w":52,"v":8000}
]},
"mark":{"type":"line","strokeWidth":1.4,"clip":true},
"encoding":{
"x":{"field":"w","type":"quantitative","scale":{"domain":[-1.07,54],"nice":false,"zero":false},
"axis":{"values":[0,10,20,30,40,50],"title":"Week of Water Year","tickSize":8,"labelPadding":13,"titleX":249.5,"titleY":66,"titleBaseline":"alphabetic","titleAlign":"center"}},
"y":{"field":"v","type":"quantitative","scale":{"domain":[2144,51940],"nice":false,"zero":false},
"axis":{"values":[10000,20000,30000,40000,50000],"format":"d","title":"Avg Weekly Inflows (ac-ft)","tickSize":9,"labelPadding":9,"labelAngle":270,"labelAlign":"center","labelBaseline":"bottom","titleAngle":270,"titleX":-55,"titleY":224,"titleAlign":"center","titleBaseline":"alphabetic"}},
"color":{"field":"g","type":"nominal","scale":{"domain":["P1","P3"],"range":["#000000","#FFA500"]},
"legend":{"orient":"none","legendX":391,"legendY":10,"title":null,"symbolType":"stroke","symbolSize":1156,"symbolStrokeWidth":3,"labelFontSize":13,"labelColor":"#222","labelOffset":10,"padding":0,"symbolOffset":0,"rowPadding":2,"clipHeight":16}},
"detail":{"field":"r"}
}
}
